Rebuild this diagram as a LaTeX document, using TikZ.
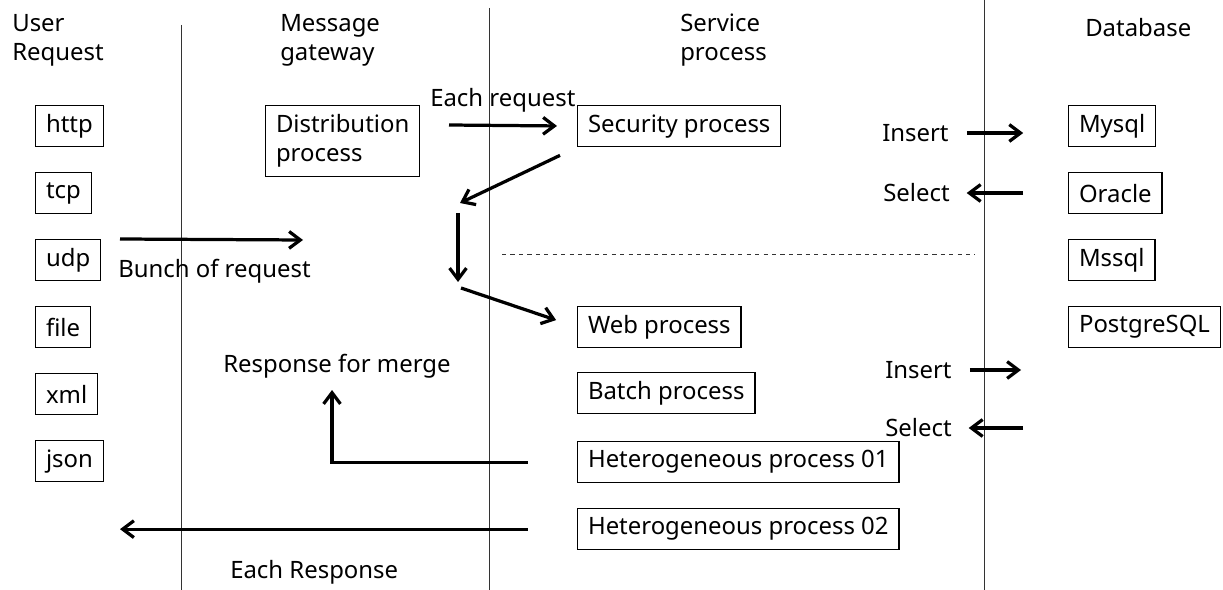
\documentclass[tikz,border=0pt]{standalone}
\usepackage{fontspec}
\setmainfont{Noto Sans}
\usetikzlibrary{arrows.meta}

\begin{document}
\begin{tikzpicture}[x=0.025cm, y=-0.025cm,
    every node/.style={font=\fontsize{17}{20.5}\selectfont},
    lbl/.style={inner sep=0pt, anchor=west, align=left},
    box/.style={draw, line width=0.9pt, anchor=north west, inner xsep=0.26cm,
      minimum height=1.025cm, align=left},
    arr/.style={line width=2.3pt, -{Straight Barb[length=0.28cm, width=0.42cm, line width=2.3pt]}},
    lane/.style={line width=0.7pt, black!80}]

  % Page size
  \useasboundingbox (0,0) rectangle (1223,590);

  % Draw lane separators
  \draw[lane] (181,25) -- (181,590);
  \draw[lane] (489,8) -- (489,590);
  \draw[lane] (984,0) -- (984,590);
  \draw[dashed, line width=0.6pt, black!80] (502,254) -- (975,254);

  % Lane titles
  \node[lbl] (tuser) at (12,40) {User\\Request};
  \node[lbl] (tgate) at (280,40) {Message\\gateway};
  \node[lbl] (tserv) at (680,40) {Service\\process};
  \node[lbl] (tdb) at (1085,28) {Database};

  % User request kinds
  \foreach \i/\t in {0/http,1/tcp,2/udp,3/file,4/xml,5/json} {
    \node[box] (u\t) at (35,105+67*\i) {\t};
  }

  % Gateway and service boxes
  \node[box, minimum height=1.775cm] (dist) at (265,105) {Distribution\\process};
  \node[box] (sec) at (577,105) {Security process};
  \node[box] (web) at (577,306) {Web process};
  \node[box] (batch) at (577,372) {Batch process};
  \node[box] (het1) at (577,441) {Heterogeneous process 01};
  \node[box] (het2) at (577,508) {Heterogeneous process 02};

  % Databases
  \foreach \i/\t in {0/Mysql,1/Oracle,2/Mssql,3/PostgreSQL} {
    \node[box] (db\i) at (1068,105+67*\i) {\t};
  }

  % Arrow labels
  \node[lbl] (leach) at (430,100) {Each request};
  \node[lbl] (lbunch) at (118,271) {Bunch of request};
  \node[lbl] (lmerge) at (223,366) {Response for merge};
  \node[lbl] (lresp) at (230,572) {Each Response};
  \node[lbl] (ins1) at (882,133) {Insert};
  \node[lbl] (sel1) at (883,193) {Select};
  \node[lbl] (ins2) at (885,370) {Insert};
  \node[lbl] (sel2) at (885,428) {Select};

  % Free ends of connectors
  \coordinate (bunchend) at (303,240);
  \coordinate (turn1) at (460,203);
  \coordinate (turn2) at (458,213);
  \coordinate (turn3) at (458,282);
  \coordinate (turn4) at (461,288);
  \coordinate (mergeend) at (332,390);
  \coordinate (respend) at (120,530);
  \coordinate (ins2end) at (1021,370);
  \coordinate (sel2start) at (1023,428);

  % Request flow
  \draw[arr] (uudp.north east -| 120,0) -- (bunchend);
  \draw[arr, shorten >=0.5cm] (449,125) -- (sec.west);
  \draw[arr, shorten <=0.47cm] (sec.south west) -- (turn1);
  \draw[arr] (turn2) -- (turn3);
  \draw[arr, shorten >=0.55cm] (turn4) -- (web.west);

  % Response flow
  \draw[arr, shorten <=1.225cm] (het1.west) -| (mergeend);
  \draw[arr, shorten <=1.225cm] (het2.west) -- (het2.west -| respend);

  % Database access
  \draw[arr, shorten <=0.45cm, shorten >=1.12cm] (ins1.east) -- (ins1.east -| db0.west);
  \draw[arr, shorten <=1.12cm, shorten >=0.42cm] (sel1.east -| db1.west) -- (sel1.east);
  \draw[arr, shorten <=0.45cm] (ins2.east) -- (ins2end);
  \draw[arr, shorten >=0.42cm] (sel2start) -- (sel2.east);
\end{tikzpicture}
\end{document}
